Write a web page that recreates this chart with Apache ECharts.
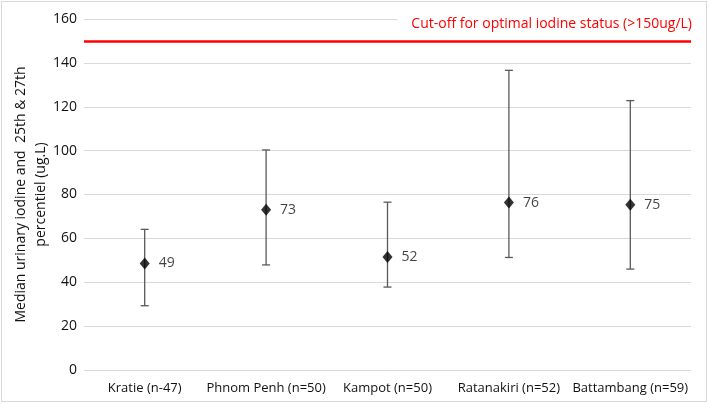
<!DOCTYPE html>
<html><head><meta charset="utf-8">
<script src="https://cdn.jsdelivr.net/npm/echarts@6/dist/echarts.min.js"></script>
<style>
html,body{margin:0;padding:0;background:#fff;}
#c{position:absolute;left:1px;top:1px;width:706px;height:401px;border:1.5px solid #d9d9d9;box-sizing:border-box;}
</style></head>
<body><div id="c"></div>
<script>
const categories = ['Kratie (n-47)', 'Phnom Penh (n=50)', 'Kampot (n=50)', 'Ratanakiri (n=52)', 'Battambang (n=59)'];
const medians = [48.6, 73, 51.5, 76.3, 75.3];
const medianLabels = ['49', '73', '52', '76', '75'];
const lower = [29.3, 47.9, 37.8, 51.3, 46.0];
const upper = [64.1, 100.3, 76.5, 136.6, 122.8];
const cutoff = 150;
const cutoffLabel = 'Cut-off for optimal iodine status (>150ug/L)';
const yTicks = [0, 20, 40, 60, 80, 100, 120, 140, 160];

const font = '"Open Sans", "Liberation Sans", sans-serif';
const chart = echarts.init(document.getElementById('c'));
const errData = categories.map((c, i) => [i, lower[i], upper[i]]);
chart.setOption({
  animation: false,
  title: {
    text: cutoffLabel, right: 8, top: 12,
    backgroundColor: '#fff', padding: [3, 6, 3, 14],
    textStyle: { color: '#ff0000', fontSize: 14, fontWeight: 'normal', fontFamily: font }
  },
  grid: { left: 82, right: 15, top: 17, bottom: 31, outerBoundsMode: 'none', containLabel: false },
  xAxis: {
    type: 'category', data: categories, boundaryGap: true,
    axisLine: { show: false }, axisTick: { show: false },
    axisLabel: { color: '#111', fontSize: 13, fontFamily: font, margin: 12, interval: 0 }
  },
  yAxis: {
    type: 'value', min: yTicks[0], max: yTicks[yTicks.length - 1], interval: 20,
    name: 'Median urinary iodine and  25th & 27th\npercentiel (ug.L)',
    nameLocation: 'middle', nameGap: 33, nameMoveOverlap: false,
    nameTextStyle: { color: '#111', fontSize: 14, fontFamily: font, lineHeight: 20 },
    axisLine: { show: false }, axisTick: { show: false },
    axisLabel: { color: '#111', fontSize: 14, fontFamily: font, margin: 7 },
    splitLine: { lineStyle: { color: '#d9d9d9', width: 1 } }
  },
  series: [
    {
      type: 'custom',
      data: errData,
      renderItem: function (params, api) {
        const x = api.value(0);
        const lo = api.coord([x, api.value(1)]);
        const hi = api.coord([x, api.value(2)]);
        const w = 4;
        const st = { stroke: '#595959', lineWidth: 1.3 };
        return {
          type: 'group', children: [
            { type: 'line', shape: { x1: lo[0], y1: lo[1], x2: hi[0], y2: hi[1] }, style: st },
            { type: 'line', shape: { x1: lo[0] - w, y1: lo[1], x2: lo[0] + w, y2: lo[1] }, style: st },
            { type: 'line', shape: { x1: hi[0] - w, y1: hi[1], x2: hi[0] + w, y2: hi[1] }, style: st }
          ]
        };
      },
      z: 2
    },
    {
      type: 'scatter',
      data: medians.map((v, i) => ({ value: [i, v], label: { formatter: medianLabels[i] } })),
      symbol: 'diamond', symbolSize: [10, 12],
      itemStyle: { color: '#000' },
      label: { show: true, position: 'right', distance: 9, color: '#111', fontSize: 14, fontFamily: font },
      z: 3,
      markLine: {
        silent: true, symbol: 'none',
        lineStyle: { color: '#ff0000', width: 2.5, type: 'solid' },
        label: { show: false },
        data: [{ yAxis: cutoff }]
      }
    }
  ]
});
</script></body></html>
